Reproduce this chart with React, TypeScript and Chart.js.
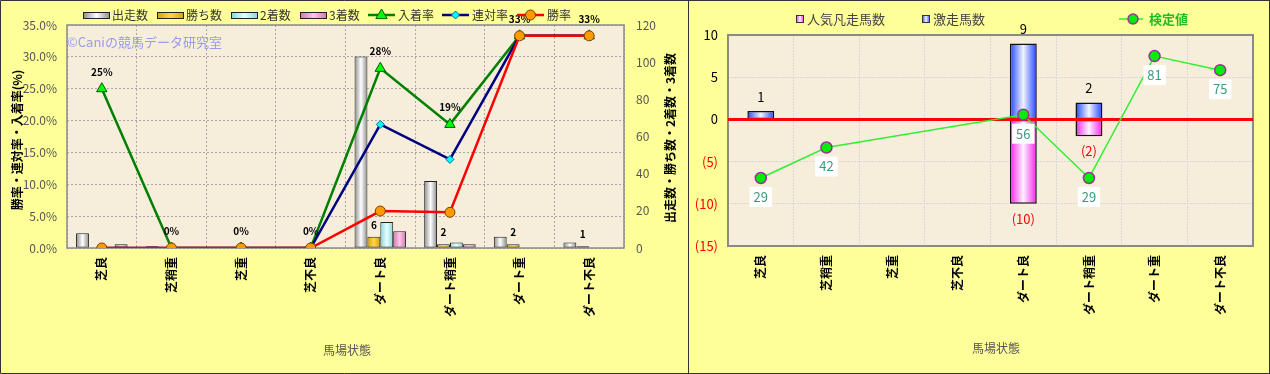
import React, { useEffect, useRef } from 'react';
import { Chart, registerables } from 'chart.js';

Chart.register(...registerables);

const FONT = "'Noto Sans CJK JP', 'Noto Sans', sans-serif";

// ---------- data ----------
const categories = ['芝良', '芝稍重', '芝重', '芝不良', 'ダート良', 'ダート稍重', 'ダート重', 'ダート不良'];
const runs = [8, 1, 0, 0, 103, 36, 6, 3];
const wins = [0, 0, 0, 0, 6, 2, 2, 1];
const seconds = [0, 0, 0, 0, 14, 3, 0, 0];
const thirds = [2, 0, 0, 0, 9, 2, 0, 0];
const placeRate = [25, 0, 0, 0, 28.2, 19.4, 33.3, 33.3];
const quinellaRate = [0, 0, 0, 0, 19.4, 13.9, 33.3, 33.3];
const winRate = [0, 0, 0, 0, 5.8, 5.6, 33.3, 33.3];

const upsetCounts = [1, null, null, null, 9, 2, null, null];
const popularFailCounts = [null, null, null, null, -10, -2, null, null];
const testValues = [29, 42, null, null, 56, 29, 81, 75];

const YELLOW = '#FFFF99';
const PLOT_BG = '#F6EEDB';

type Grad = [string, string];

const gradPlugin = {
  id: 'gradBars',
  beforeDatasetsDraw(chart: any) {
    const ctx = chart.ctx;
    chart.data.datasets.forEach((ds: any, i: number) => {
      const g: Grad | undefined = ds.grad;
      if (!g) return;
      const meta = chart.getDatasetMeta(i);
      meta.data.forEach((el: any) => {
        const { x, width } = el.getProps(['x', 'width'], true);
        if (!isFinite(x) || !isFinite(width) || width <= 0) return;
        const gr = ctx.createLinearGradient(x - width / 2, 0, x + width / 2, 0);
        gr.addColorStop(0, g[0]);
        gr.addColorStop(0.5, g[1]);
        gr.addColorStop(1, g[0]);
        el.options.backgroundColor = gr;
      });
    });
  },
};

function vText(ctx: CanvasRenderingContext2D, text: string, x: number, y: number, font: string, color: string) {
  ctx.save();
  ctx.translate(x, y);
  ctx.rotate(-Math.PI / 2);
  ctx.textAlign = 'center';
  ctx.textBaseline = 'middle';
  ctx.font = font;
  ctx.fillStyle = color;
  ctx.fillText(text, 0, 0);
  ctx.restore();
}

function drawMarker(ctx: CanvasRenderingContext2D, style: string, x: number, y: number, r: number, fill: string, stroke: string) {
  ctx.save();
  ctx.beginPath();
  if (style === 'triangle') {
    ctx.moveTo(x, y - r);
    ctx.lineTo(x + r * 0.95, y + r * 0.6);
    ctx.lineTo(x - r * 0.95, y + r * 0.6);
    ctx.closePath();
  } else if (style === 'diamond') {
    ctx.moveTo(x, y - r);
    ctx.lineTo(x + r, y);
    ctx.lineTo(x, y + r);
    ctx.lineTo(x - r, y);
    ctx.closePath();
  } else {
    ctx.arc(x, y, r, 0, Math.PI * 2);
  }
  ctx.fillStyle = fill;
  ctx.fill();
  ctx.strokeStyle = stroke;
  ctx.lineWidth = 1;
  ctx.stroke();
  ctx.restore();
}

function gradRect(ctx: CanvasRenderingContext2D, x: number, y: number, w: number, h: number, g: Grad, border: string) {
  const gr = ctx.createLinearGradient(x, 0, x + w, 0);
  gr.addColorStop(0, g[0]);
  gr.addColorStop(0.5, g[1]);
  gr.addColorStop(1, g[0]);
  ctx.fillStyle = gr;
  ctx.fillRect(x, y, w, h);
  ctx.strokeStyle = border;
  ctx.lineWidth = 1;
  ctx.strokeRect(x + 0.5, y + 0.5, w - 1, h - 1);
}

// ---------- left chart ----------
const G_RUNS: Grad = ['#8a8a8a', '#ffffff'];
const G_WINS: Grad = ['#D9A200', '#FFD54A'];
const G_SEC: Grad = ['#86D4DC', '#E6FFFF'];
const G_THIRD: Grad = ['#D472B2', '#FAC8E8'];

const leftDecor = {
  id: 'leftDecor',
  beforeDraw(chart: any) {
    const { ctx, width, height, chartArea: a } = chart;
    ctx.save();
    ctx.fillStyle = YELLOW;
    ctx.fillRect(0, 0, width, height);
    ctx.fillStyle = PLOT_BG;
    ctx.fillRect(a.left, a.top, a.right - a.left, a.bottom - a.top);
    ctx.restore();
  },
  beforeDatasetsDraw(chart: any) {
    const { ctx, chartArea: a } = chart;
    ctx.save();
    ctx.strokeStyle = '#8a8a8a';
    ctx.lineWidth = 1.5;
    ctx.strokeRect(a.left, a.top, a.right - a.left, a.bottom - a.top);
    ctx.font = `13px ${FONT}`;
    ctx.fillStyle = '#9A9AF0';
    ctx.textAlign = 'left';
    ctx.textBaseline = 'middle';
    ctx.fillText('©Caniの競馬データ研究室', a.left, 42);
    ctx.restore();
  },
  afterDatasetsDraw(chart: any) {
    const { ctx } = chart;
    ctx.save();
    ctx.font = `bold 10px ${FONT}`;
    ctx.fillStyle = '#000';
    ctx.textAlign = 'center';
    ctx.textBaseline = 'middle';
    const mw = chart.getDatasetMeta(1);
    mw.data.forEach((el: any, i: number) => {
      if (!wins[i]) return;
      ctx.fillText(String(wins[i]), el.x, el.y - 12);
    });
    const mp = chart.getDatasetMeta(4);
    mp.data.forEach((el: any, i: number) => {
      ctx.fillText(Math.round(placeRate[i]) + '%', el.x, el.y - 17);
    });
    ctx.restore();
  },
  afterDraw(chart: any) {
    const { ctx, width, height } = chart;
    ctx.save();
    ctx.strokeStyle = '#333';
    ctx.lineWidth = 1;
    ctx.beginPath();
    ctx.moveTo(width, 0.5);
    ctx.lineTo(0.5, 0.5);
    ctx.lineTo(0.5, height - 0.5);
    ctx.lineTo(width, height - 0.5);
    ctx.stroke();
    const ly = 15;
    ctx.font = `12px ${FONT}`;
    ctx.textBaseline = 'middle';
    ctx.textAlign = 'left';
    const bars: [string, Grad, number][] = [
      ['出走数', G_RUNS, 83],
      ['勝ち数', G_WINS, 157],
      ['2着数', G_SEC, 231],
      ['3着数', G_THIRD, 300],
    ];
    bars.forEach(([t, g, x]) => {
      gradRect(ctx, x, ly - 3, 27, 7, g, '#222');
      ctx.fillStyle = '#333';
      ctx.fillText(t, x + 29, ly);
    });
    const lines: [string, string, string, string, string, number, number][] = [
      ['入着率', '#008000', 'triangle', '#00FF00', '#006000', 368, 6],
      ['連対率', '#000080', 'diamond', '#00FFFF', '#0070A0', 442, 4],
      ['勝率', '#FF0000', 'circle', '#FF9900', '#7A4000', 517, 5],
    ];
    lines.forEach(([t, c, st, f, s, x, r]) => {
      ctx.strokeStyle = c;
      ctx.lineWidth = 2.5;
      ctx.beginPath();
      ctx.moveTo(x, ly);
      ctx.lineTo(x + 27, ly);
      ctx.stroke();
      drawMarker(ctx, st, x + 13.5, ly, r, f, s);
      ctx.fillStyle = '#333';
      ctx.fillText(t, x + 30, ly);
    });
    vText(ctx, '勝率・連対率・入着率(%)', 17, 140, `bold 12px ${FONT}`, '#000');
    vText(ctx, '出走数・勝ち数・2着数・3着数', 670, 138, `bold 12px ${FONT}`, '#000');
    ctx.font = `12px ${FONT}`;
    ctx.fillStyle = '#555';
    ctx.textAlign = 'center';
    ctx.fillText('馬場状態', 347, 350);
    ctx.restore();
  },
};

function barDs(label: string, data: number[], g: Grad) {
  return {
    type: 'bar' as const,
    label,
    data,
    yAxisID: 'y2',
    grad: g,
    backgroundColor: () => g[0],
    borderColor: '#222',
    borderWidth: (c: any) => (c.raw ? 1 : 0),
    borderSkipped: false,
    barPercentage: 1,
    categoryPercentage: 0.74,
    order: 4,
  };
}

function leftConfig(): any {
  return {
    type: 'bar',
    data: {
      labels: categories,
      datasets: [
        barDs('出走数', runs, G_RUNS),
        barDs('勝ち数', wins, G_WINS),
        barDs('2着数', seconds, G_SEC),
        barDs('3着数', thirds, G_THIRD),
        {
          type: 'line', label: '入着率', data: placeRate, yAxisID: 'y',
          borderColor: '#008000', borderWidth: 2.5, pointStyle: 'triangle', pointRadius: 6,
          pointBackgroundColor: '#00FF00', pointBorderColor: '#005500', pointBorderWidth: 1, order: 3,
        },
        {
          type: 'line', label: '連対率', data: quinellaRate, yAxisID: 'y',
          borderColor: '#000080', borderWidth: 2.5, pointStyle: 'rectRot', pointRadius: 4,
          pointBackgroundColor: '#00FFFF', pointBorderColor: '#0070A0', pointBorderWidth: 1, order: 2,
        },
        {
          type: 'line', label: '勝率', data: winRate, yAxisID: 'y',
          borderColor: '#FF0000', borderWidth: 2.5, pointStyle: 'circle', pointRadius: 5,
          pointBackgroundColor: '#FF9900', pointBorderColor: '#7A4000', pointBorderWidth: 1, order: 1,
        },
      ],
    },
    options: {
      animation: false,
      responsive: false,
      maintainAspectRatio: false,
      layout: { padding: { left: 0, right: 0, top: 25, bottom: 0 } },
      plugins: { legend: { display: false }, tooltip: { enabled: false } },
      scales: {
        x: {
          grid: { color: '#A8A8A8', lineWidth: 1, drawTicks: false, offset: true },
          border: { display: false, dash: [2, 2] },
          ticks: {
            minRotation: 90, maxRotation: 90, autoSkip: false, padding: 9,
            color: '#000', font: { size: 12, family: FONT, weight: 'bold' },
          },
          afterFit: (s: any) => { s.height = 126; },
        },
        y: {
          position: 'left', min: 0, max: 35,
          grid: { color: '#A8A8A8', lineWidth: 1, drawTicks: false },
          border: { display: false, dash: [2, 2] },
          ticks: {
            stepSize: 5, padding: 10, color: '#555', font: { size: 12, family: FONT },
            callback: (v: number) => v.toFixed(1) + '%',
          },
          afterFit: (s: any) => { s.width = 67; },
        },
        y2: {
          position: 'right', min: 0, max: 120,
          grid: { drawOnChartArea: false, drawTicks: false },
          border: { display: false },
          ticks: { stepSize: 20, padding: 12, color: '#555', font: { size: 12, family: FONT } },
          afterFit: (s: any) => { s.width = 64; },
        },
      },
    },
    plugins: [gradPlugin, leftDecor],
  };
}

// ---------- right chart ----------
const G_PINK: Grad = ['#EE22EE', '#FFF2FF'];
const G_BLUE: Grad = ['#2244FF', '#F2F5FF'];

const rightDecor = {
  id: 'rightDecor',
  beforeDraw(chart: any) {
    const { ctx, width, height, chartArea: a } = chart;
    ctx.save();
    ctx.fillStyle = YELLOW;
    ctx.fillRect(0, 0, width, height);
    ctx.fillStyle = PLOT_BG;
    ctx.fillRect(a.left, a.top, a.right - a.left, a.bottom - a.top);
    ctx.restore();
  },
  beforeDatasetsDraw(chart: any) {
    const { ctx, chartArea: a } = chart;
    ctx.save();
    ctx.strokeStyle = '#8a8a8a';
    ctx.lineWidth = 2;
    ctx.strokeRect(a.left, a.top, a.right - a.left, a.bottom - a.top);
    ctx.restore();
  },
  beforeDatasetDraw(chart: any, args: any) {
    if (args.meta.type !== 'line') return;
    const { ctx, chartArea: a } = chart;
    const y0 = chart.scales.y.getPixelForValue(0);
    ctx.save();
    ctx.strokeStyle = '#FF0000';
    ctx.lineWidth = 3;
    ctx.beginPath();
    ctx.moveTo(a.left, y0);
    ctx.lineTo(a.right, y0);
    ctx.stroke();
    ctx.restore();
  },
  afterDatasetsDraw(chart: any) {
    const { ctx } = chart;
    ctx.save();
    ctx.textAlign = 'center';
    ctx.textBaseline = 'middle';
    ctx.font = `13px ${FONT}`;
    const mu = chart.getDatasetMeta(1);
    mu.data.forEach((el: any, i: number) => {
      const v = upsetCounts[i];
      if (v == null) return;
      ctx.fillStyle = '#000';
      ctx.fillText(String(v), el.x, el.y - 14);
    });
    const mf = chart.getDatasetMeta(0);
    mf.data.forEach((el: any, i: number) => {
      const v = popularFailCounts[i];
      if (v == null) return;
      ctx.fillStyle = '#FF0000';
      ctx.fillText(`(${-v})`, el.x, el.y + 15);
    });
    const ml = chart.getDatasetMeta(2);
    ml.data.forEach((el: any, i: number) => {
      const v = testValues[i];
      if (v == null) return;
      const t = String(v);
      const w = ctx.measureText(t).width + 8;
      const cy = el.y + 19;
      ctx.fillStyle = '#FFFFFF';
      ctx.fillRect(el.x - w / 2, cy - 10, w, 20);
      ctx.fillStyle = '#3C9A78';
      ctx.fillText(t, el.x, cy);
    });
    ctx.restore();
  },
  afterDraw(chart: any) {
    const { ctx, width, height } = chart;
    ctx.save();
    ctx.strokeStyle = '#333';
    ctx.lineWidth = 1;
    ctx.strokeRect(0.5, 0.5, width - 1, height - 1);
    const ly = 19;
    ctx.font = `13px ${FONT}`;
    ctx.textBaseline = 'middle';
    ctx.textAlign = 'left';
    gradRect(ctx, 108, ly - 4, 8, 8, G_PINK, '#333');
    ctx.fillStyle = '#444';
    ctx.fillText('人気凡走馬数', 119, ly);
    gradRect(ctx, 234, ly - 4, 8, 8, G_BLUE, '#333');
    ctx.fillStyle = '#444';
    ctx.fillText('激走馬数', 245, ly);
    ctx.strokeStyle = '#33EE33';
    ctx.lineWidth = 1.5;
    ctx.beginPath();
    ctx.moveTo(431, ly);
    ctx.lineTo(455, ly);
    ctx.stroke();
    ctx.beginPath();
    ctx.arc(445, ly, 5, 0, Math.PI * 2);
    ctx.fillStyle = '#00EE00';
    ctx.fill();
    ctx.strokeStyle = '#993399';
    ctx.lineWidth = 1.5;
    ctx.stroke();
    ctx.font = `bold 13px ${FONT}`;
    ctx.fillStyle = '#22BB22';
    ctx.fillText('検定値', 461, ly);
    ctx.font = `12px ${FONT}`;
    ctx.fillStyle = '#555';
    ctx.textAlign = 'center';
    ctx.fillText('馬場状態', 308, 348);
    ctx.restore();
  },
};

function stackDs(label: string, data: (number | null)[], g: Grad) {
  return {
    type: 'bar' as const,
    label,
    data,
    stack: 's',
    grad: g,
    backgroundColor: () => g[0],
    borderColor: '#111',
    borderWidth: 1.5,
    borderSkipped: false,
    barPercentage: 0.41,
    categoryPercentage: 1,
    order: 1,
  };
}

function rightConfig(): any {
  return {
    type: 'bar',
    data: {
      labels: categories,
      datasets: [
        stackDs('人気凡走馬数', popularFailCounts, G_PINK),
        stackDs('激走馬数', upsetCounts, G_BLUE),
        {
          type: 'line', label: '検定値', data: testValues, yAxisID: 'y2', spanGaps: true,
          borderColor: '#33EE33', borderWidth: 1.5, pointRadius: 5.5, pointStyle: 'circle',
          pointBackgroundColor: '#00EE00', pointBorderColor: '#993399', pointBorderWidth: 1.5, order: 0,
        },
      ],
    },
    options: {
      animation: false,
      responsive: false,
      maintainAspectRatio: false,
      layout: { padding: { left: 0, right: 17, top: 35, bottom: 0 } },
      plugins: { legend: { display: false }, tooltip: { enabled: false } },
      scales: {
        x: {
          stacked: true,
          grid: { color: '#D8D8D8', lineWidth: 1, drawTicks: false, offset: true },
          border: { display: false, dash: [2, 1] },
          ticks: {
            minRotation: 90, maxRotation: 90, autoSkip: false, padding: 9,
            color: '#000', font: { size: 12, family: FONT, weight: 'bold' },
          },
          afterFit: (s: any) => { s.height = 128; },
        },
        y: {
          stacked: true, min: -15, max: 10,
          grid: { color: '#D8D8D8', lineWidth: 1, drawTicks: false },
          border: { display: false, dash: [2, 1] },
          ticks: {
            stepSize: 5, padding: 10, font: { size: 13, family: FONT },
            color: (c: any) => (c.tick && c.tick.value < 0 ? '#FF0000' : '#000'),
            callback: (v: number) => (v < 0 ? `(${-v})` : `${v}`),
          },
          afterFit: (s: any) => { s.width = 40; },
        },
        y2: { display: false, min: 0, max: 90 },
      },
    },
    plugins: [gradPlugin, rightDecor],
  };
}

export default function App() {
  const leftRef = useRef<HTMLCanvasElement>(null);
  const rightRef = useRef<HTMLCanvasElement>(null);
  useEffect(() => {
    const c1 = new Chart(leftRef.current as HTMLCanvasElement, leftConfig());
    const c2 = new Chart(rightRef.current as HTMLCanvasElement, rightConfig());
    return () => {
      c1.destroy();
      c2.destroy();
    };
  }, []);
  return (
    <div style={{ position: 'absolute', left: 0, top: 0, width: 1270, height: 374, display: 'flex', background: YELLOW }}>
      <div style={{ width: 688, height: 374, position: 'relative' }}>
        <canvas ref={leftRef} width={688} height={374} style={{ display: 'block', width: 688, height: 374 }} />
      </div>
      <div style={{ width: 582, height: 374, position: 'relative' }}>
        <canvas ref={rightRef} width={582} height={374} style={{ display: 'block', width: 582, height: 374 }} />
      </div>
    </div>
  );
}
